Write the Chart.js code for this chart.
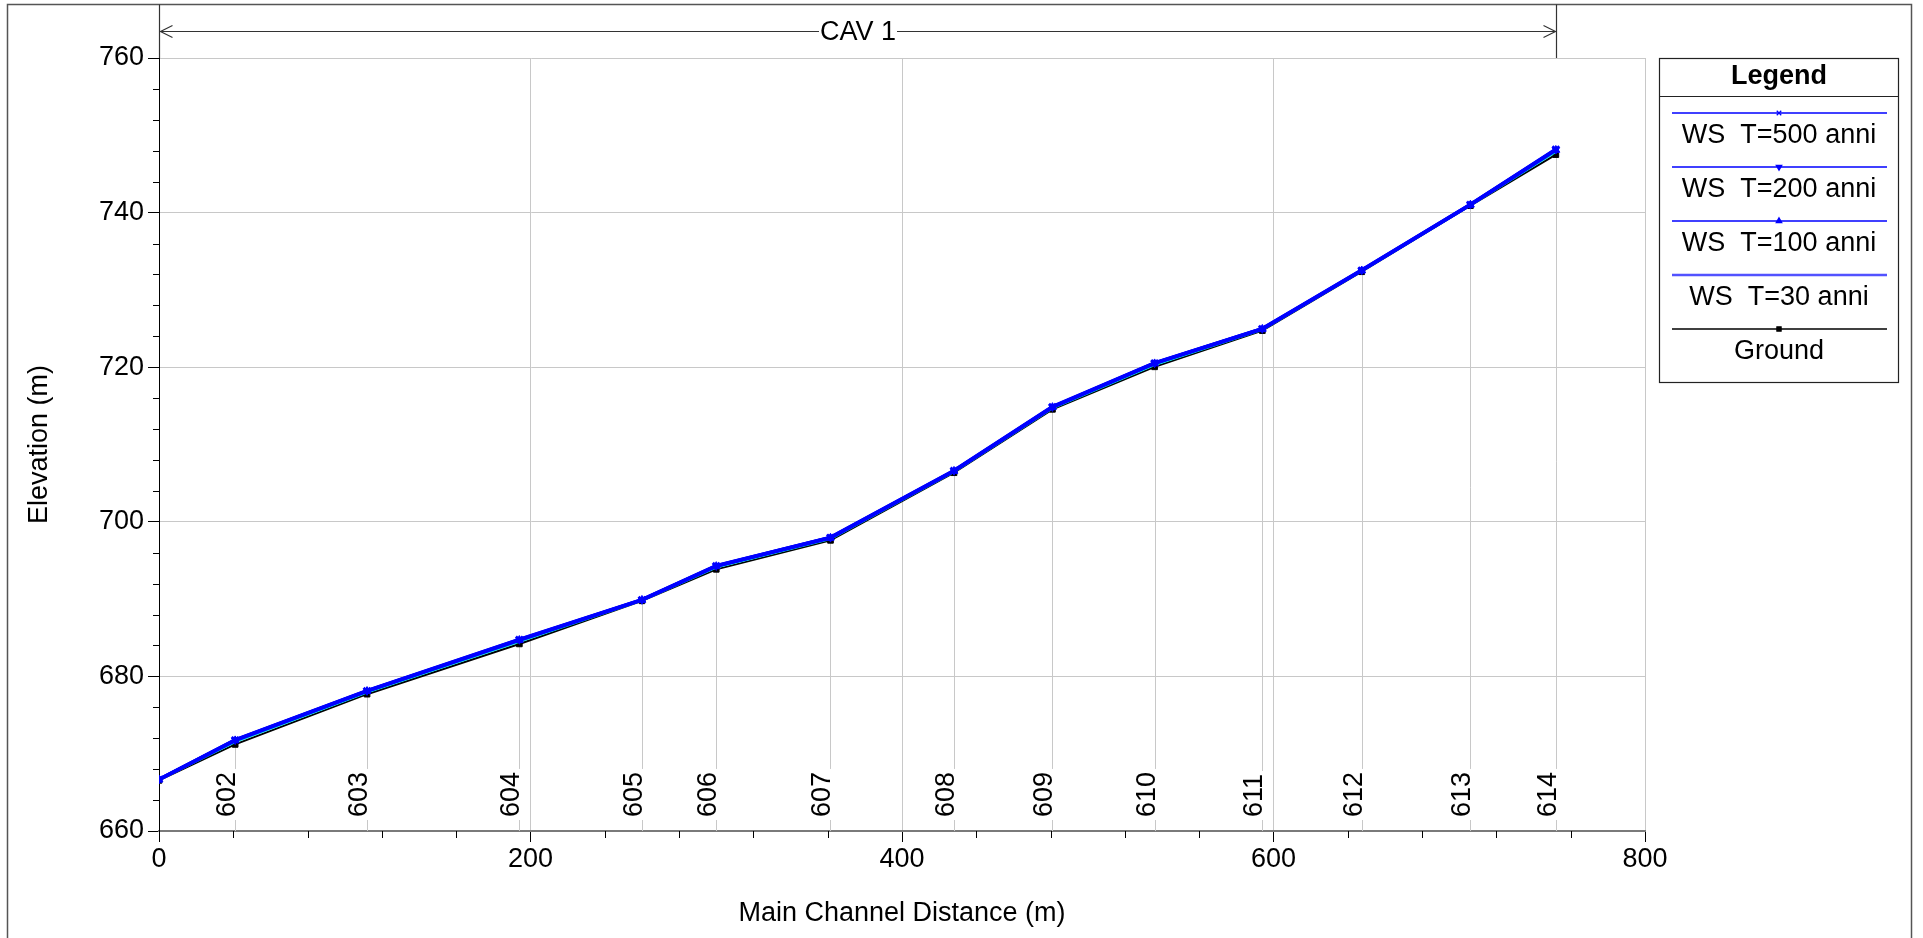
<!DOCTYPE html>
<html>
<head>
<meta charset="utf-8">
<title>Profilo longitudinale CAV 1</title>
<script src="https://cdn.jsdelivr.net/npm/chart.js@4.4.1/dist/chart.umd.min.js"></script>
<style>
  html, body { margin: 0; padding: 0; background: #ffffff; }
  canvas { display: block; }
</style>
</head>
<body>
<canvas id="profile" width="1923" height="938"></canvas>
<script>
// Main channel distance of each cross section (m)
const distances = [0, 41, 112, 194, 260, 300, 361.5, 428, 481, 536, 594, 647.5, 706, 752];
// River station labels (the upstream-most section carries no label)
const stationLabels = ['', '602', '603', '604', '605', '606', '607', '608', '609', '610', '611', '612', '613', '614'];

// Water surface elevations per return period (m)
const ws500 = [666.68, 671.80, 678.16, 684.78, 689.93, 694.33, 697.99, 706.64, 714.90, 720.56, 725.00, 732.56, 741.06, 748.20];
const ws200 = [666.67, 671.76, 678.13, 684.74, 689.91, 694.29, 697.96, 706.61, 714.86, 720.52, 724.97, 732.53, 741.04, 748.15];
const ws100 = [666.66, 671.72, 678.10, 684.70, 689.89, 694.26, 697.93, 706.58, 714.83, 720.49, 724.95, 732.51, 741.02, 748.10];
const ws30  = [666.63, 671.52, 677.93, 684.50, 689.84, 694.10, 697.80, 706.48, 714.70, 720.32, 724.87, 732.44, 740.97, 747.88];
// Channel bed elevation (m)
const ground = [666.55, 671.20, 677.70, 684.20, 689.78, 693.85, 697.60, 706.35, 714.55, 720.05, 724.73, 732.35, 740.90, 747.50];

const seriesLabels = ['WS  T=500 anni', 'WS  T=200 anni', 'WS  T=100 anni', 'WS  T=30 anni', 'Ground'];

// Axis ticks
const yTickValues = [660, 680, 700, 720, 740, 760];
const xTickValues = [0, 200, 400, 600, 800];
const yMinorStep = 4;
const xMinorStep = 40;

const reachName = 'CAV 1';
const legendTitle = 'Legend';

const FONT = '"Liberation Sans", Arial, Helvetica, sans-serif';
const TXT = 27;

const toPoints = (vals) => distances.map((d, i) => ({ x: d, y: vals[i] }));

function crispLine(ctx, x1, y1, x2, y2) {
  ctx.beginPath();
  ctx.moveTo(x1, y1);
  ctx.lineTo(x2, y2);
  ctx.stroke();
}

const profileDecor = {
  id: 'profileDecor',
  beforeDraw(chart) {
    const ctx = chart.ctx;
    ctx.save();
    ctx.fillStyle = '#ffffff';
    ctx.fillRect(0, 0, chart.width, chart.height);
    // outer frame
    ctx.strokeStyle = '#555555';
    ctx.lineWidth = 1.5;
    ctx.strokeRect(7.5, 4.5, 1904, 1000);
    ctx.restore();
  },
  beforeDatasetsDraw(chart) {
    // vertical lines that mark each cross section, broken around its label
    const { ctx, chartArea: a, scales: { x, y } } = chart;
    ctx.save();
    ctx.strokeStyle = '#c8c8c8';
    ctx.lineWidth = 1;
    ctx.font = TXT + 'px ' + FONT;
    const labelStart = a.bottom - 14;
    distances.forEach((d, i) => {
      const label = stationLabels[i];
      if (!label) return;
      const px = Math.round(x.getPixelForValue(d)) + 0.5;
      const top = y.getPixelForValue(ground[i]);
      const w = ctx.measureText(label).width;
      crispLine(ctx, px, top, px, labelStart - w - 3);
      crispLine(ctx, px, labelStart + 3, px, a.bottom);
    });
    ctx.restore();
  },
  afterDraw(chart) {
    const { ctx, chartArea: a, scales: { x, y } } = chart;
    ctx.save();

    // station labels, reading upwards
    ctx.fillStyle = '#000000';
    ctx.font = TXT + 'px ' + FONT;
    ctx.textAlign = 'left';
    ctx.textBaseline = 'alphabetic';
    const labelStart = a.bottom - 14;
    distances.forEach((d, i) => {
      const label = stationLabels[i];
      if (!label) return;
      const px = Math.round(x.getPixelForValue(d));
      ctx.save();
      ctx.translate(px, labelStart);
      ctx.rotate(-Math.PI / 2);
      ctx.fillText(label, 0, 0);
      ctx.restore();
    });

    // minor tick marks
    ctx.strokeStyle = '#000000';
    ctx.lineWidth = 1;
    for (let v = y.min; v <= y.max; v += yMinorStep) {
      if (yTickValues.includes(v)) continue;
      const py = Math.round(y.getPixelForValue(v)) + 0.5;
      crispLine(ctx, a.left - 6, py, a.left, py);
    }
    for (let d = x.min; d <= x.max; d += xMinorStep) {
      if (xTickValues.includes(d)) continue;
      const px = Math.round(x.getPixelForValue(d)) + 0.5;
      crispLine(ctx, px, a.bottom, px, a.bottom + 7);
    }

    // reach extent marker with name
    const x0 = Math.round(x.getPixelForValue(distances[0])) + 0.5;
    const x1 = Math.round(x.getPixelForValue(distances[distances.length - 1])) + 0.5;
    const ly = 31.5;
    ctx.strokeStyle = '#333333';
    ctx.lineWidth = 1.2;
    crispLine(ctx, x0, 4.5, x0, a.top);
    crispLine(ctx, x1, 4.5, x1, a.top);
    ctx.font = TXT + 'px ' + FONT;
    const tw = ctx.measureText(reachName).width;
    const cx = (x0 + x1) / 2;
    crispLine(ctx, x0, ly, cx - tw / 2 - 1, ly);
    crispLine(ctx, cx + tw / 2 + 1, ly, x1, ly);
    ctx.beginPath();
    ctx.moveTo(x0 + 13, ly - 6); ctx.lineTo(x0 + 1, ly); ctx.lineTo(x0 + 13, ly + 6);
    ctx.moveTo(x1 - 13, ly - 6); ctx.lineTo(x1 - 1, ly); ctx.lineTo(x1 - 13, ly + 6);
    ctx.stroke();
    ctx.fillStyle = '#000000';
    ctx.textAlign = 'center';
    ctx.textBaseline = 'middle';
    ctx.fillText(reachName, cx, ly + 1);

    // legend box
    const lx = 1659.5, lt = 58.5, lw = 239, lh = 324;
    ctx.strokeStyle = '#222222';
    ctx.lineWidth = 1.2;
    ctx.strokeRect(lx, lt, lw, lh);
    crispLine(ctx, lx, 96.5, lx + lw, 96.5);
    ctx.font = 'bold ' + TXT + 'px ' + FONT;
    ctx.fillText(legendTitle, lx + lw / 2, 77);
    ctx.font = TXT + 'px ' + FONT;
    const mid = lx + lw / 2;
    chart.data.datasets.forEach((ds, i) => {
      const lineY = 113 + i * 54;
      ctx.strokeStyle = ds.legendColor || ds.borderColor;
      ctx.lineWidth = ds.legendWidth || 1.5;
      crispLine(ctx, 1672, lineY, 1887, lineY);
      if (ds.pointRadius > 0 && Chart.helpers && Chart.helpers.drawPoint) {
        ctx.fillStyle = ds.pointBackgroundColor;
        ctx.strokeStyle = ds.pointBorderColor;
        ctx.lineWidth = 1.2;
        Chart.helpers.drawPoint(ctx, {
          pointStyle: ds.pointStyle,
          radius: ds.pointStyle === 'rect' ? 3 : 3.2,
          rotation: ds.pointRotation || 0,
          borderWidth: 1.2
        }, mid, lineY);
      }
      ctx.fillStyle = '#000000';
      ctx.fillText(ds.label, mid, lineY + 23);
    });

    ctx.restore();
  }
};

const blue = '#0000ff';

new Chart(document.getElementById('profile'), {
  type: 'line',
  data: {
    datasets: [
      {
        label: seriesLabels[0], data: toPoints(ws500),
        borderColor: blue, borderWidth: 3.5,
        pointStyle: 'crossRot', pointRadius: 4.5, pointBorderWidth: 2,
        pointBorderColor: blue, pointBackgroundColor: blue
      },
      {
        label: seriesLabels[1], data: toPoints(ws200),
        borderColor: blue, borderWidth: 3.5,
        pointStyle: 'triangle', pointRotation: 180, pointRadius: 4.5, pointBorderWidth: 1,
        pointBorderColor: blue, pointBackgroundColor: blue
      },
      {
        label: seriesLabels[2], data: toPoints(ws100),
        borderColor: blue, borderWidth: 3.5,
        pointStyle: 'triangle', pointRadius: 4.5, pointBorderWidth: 1,
        pointBorderColor: blue, pointBackgroundColor: blue
      },
      {
        label: seriesLabels[3], data: toPoints(ws30),
        borderColor: '#00dede', borderWidth: 2.5,
        legendColor: '#5252ff', legendWidth: 2.5,
        pointRadius: 0
      },
      {
        label: seriesLabels[4], data: toPoints(ground),
        borderColor: '#000000', borderWidth: 2,
        pointStyle: 'rect', pointRadius: 4, pointBorderWidth: 1,
        pointBorderColor: '#000000', pointBackgroundColor: '#000000'
      }
    ]
  },
  options: {
    responsive: false,
    devicePixelRatio: 1,
    animation: false,
    events: [],
    layout: { padding: { left: 0, top: 58, right: 278, bottom: 0 } },
    elements: { line: { tension: 0 } },
    plugins: {
      legend: { display: false },
      tooltip: { enabled: false }
    },
    scales: {
      x: {
        type: 'linear',
        min: 0, max: 800,
        afterBuildTicks: (s) => { s.ticks = xTickValues.map(v => ({ value: v })); },
        afterFit: (s) => { s.height = 107; },
        grid: { color: '#c8c8c8', lineWidth: 1, drawTicks: true, tickLength: 11, tickColor: '#000000', tickWidth: 1 },
        border: { color: '#7a7a7a', width: 2 },
        ticks: { color: '#000000', font: { family: FONT, size: TXT }, padding: 1, maxRotation: 0 },
        title: {
          display: true, text: 'Main Channel Distance (m)', color: '#000000',
          font: { family: FONT, size: TXT }, padding: { top: 0, bottom: 8 }
        }
      },
      y: {
        type: 'linear',
        min: 660, max: 760,
        afterBuildTicks: (s) => { s.ticks = yTickValues.map(v => ({ value: v })); },
        afterFit: (s) => { s.width = 159; },
        grid: { color: '#c8c8c8', lineWidth: 1, drawTicks: true, tickLength: 11, tickColor: '#000000', tickWidth: 1 },
        border: { color: '#000000', width: 1 },
        ticks: { color: '#000000', font: { family: FONT, size: TXT }, padding: 4 },
        title: {
          display: true, text: 'Elevation (m)', color: '#000000',
          font: { family: FONT, size: TXT }, padding: { top: 23, bottom: 0 }
        }
      }
    }
  },
  plugins: [profileDecor]
});
</script>
</body>
</html>
